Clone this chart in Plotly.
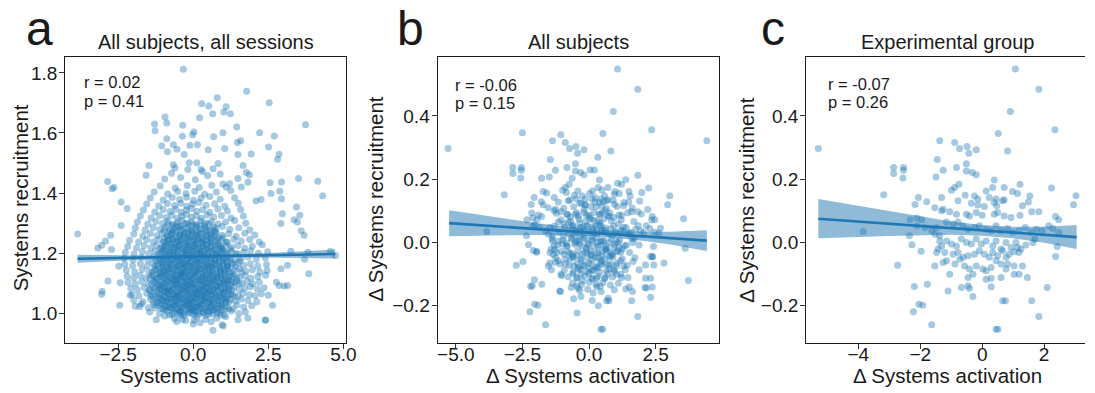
import plotly.graph_objects as go

# ---------------- data ----------------
# Panel a: all subjects, all sessions  (flat x,y pairs)
A_OUTER = [
    -0.33,1.812, 1.78,1.739, 0.80,1.717, 2.53,1.701, 0.28,1.697, 0.52,1.690, 1.10,1.687, 1.24,1.664,
    1.02,1.670, 0.65,1.664, 0.21,1.651, -0.94,1.653, -0.88,1.633, -1.29,1.630, -1.27,1.607, -0.35,1.626,
    3.74,1.627, 1.45,1.620, 2.21,1.601, 2.70,1.590, 0.02,1.603, -0.02,1.594, 0.68,1.587, 0.99,1.601,
    -0.88,1.581, -0.36,1.589, 1.47,1.568, 1.58,1.574, 2.51,1.553, -0.11,1.559, 0.14,1.561, -1.05,1.557,
    -0.66,1.561, 0.50,1.544, 1.05,1.548, -0.86,1.537, -0.54,1.546, -0.30,1.528, 1.49,1.528, 1.93,1.530,
    2.81,1.512, 2.86,1.529, -0.13,1.501, 0.12,1.501, 0.83,1.498, 0.66,1.481, -0.66,1.494, -0.61,1.483,
    -1.47,1.492, 1.66,1.492, 0.26,1.478, 1.77,1.468, 1.87,1.461, -1.57,1.459, -2.85,1.438, -2.70,1.414,
    -2.64,1.418, 1.49,1.448, 1.82,1.436, 2.56,1.434, 2.94,1.437, 3.51,1.448, 4.15,1.439, 4.31,1.391,
    0.99,1.430, 1.21,1.431, 1.60,1.420, -2.40,1.370, -2.20,1.348, -2.40,1.292, -3.85,1.263, -3.18,1.217,
    -3.05,1.226, -2.92,1.240, -2.75,1.259, -2.72,1.212, -3.03,1.073, -3.05,1.063, -2.84,1.107, -2.43,1.101,
    -2.48,1.156, -2.45,1.026, -2.10,1.059, -1.93,1.023, -1.73,1.031, -1.23,0.978, -0.55,0.972, -0.36,0.979,
    0.00,0.964, 0.03,0.976, 0.66,0.943, 0.96,0.961, 1.00,0.957, 1.49,0.978, 1.82,0.984, 2.41,0.976,
    3.85,1.131, 3.71,1.179, 3.82,1.203, 3.25,1.206, 2.86,1.092, 3.03,1.090, 3.14,1.092, 2.77,1.103,
    4.74,1.192, 4.57,1.206, 3.55,1.326, 3.44,1.353, 3.47,1.303, 3.60,1.274, 3.69,1.259, 3.36,1.311,
    2.97,1.331, 2.92,1.298, 2.59,1.398, 2.94,1.381, 2.88,1.406, 2.26,1.378, 2.09,1.374, 2.50,1.059,
    2.64,1.026, 2.40,0.977, 3.14,1.159, 2.92,1.148,
]
A_CORE = [
    -0.62,0.981, -0.25,0.975, 0.12,0.986, 0.41,0.979, 0.78,0.983, -0.95,0.990, 0.23,0.968, 1.08,0.988, -0.41,0.992, 0.60,0.971,
    -1.45,1.004, -1.12,0.998, -0.86,1.006, -0.71,0.995, -0.47,1.003, -0.33,0.999, -0.14,1.008, 0.02,0.996, 0.17,1.005,
    0.34,1.001, 0.52,0.997, 0.67,1.009, 0.88,1.002, 1.03,0.994, 1.27,1.007, 1.52,0.999, 1.74,1.004, -0.02,1.012,
    -1.78,1.022, -1.50,1.018, -1.31,1.027, -1.06,1.015, -0.93,1.024, -0.78,1.019, -0.60,1.028, -0.52,1.014, -0.38,1.021,
    -0.24,1.026, -0.09,1.017, 0.06,1.023, 0.21,1.019, 0.29,1.029, 0.44,1.016, 0.58,1.024, 0.73,1.018, 0.94,1.026,
    1.12,1.021, 1.33,1.015, 1.46,1.027, 1.68,1.020, 1.95,1.024, -0.16,1.031,
    -1.98,1.043, -1.67,1.038, -1.42,1.046, -1.20,1.035, -1.03,1.044, -0.88,1.039, -0.74,1.048, -0.64,1.036, -0.49,1.042,
    -0.37,1.047, -0.27,1.037, -0.12,1.044, -0.03,1.039, 0.09,1.048, 0.18,1.034, 0.32,1.043, 0.41,1.049, 0.55,1.038,
    0.63,1.045, 0.80,1.041, 0.97,1.047, 1.09,1.036, 1.24,1.044, 1.41,1.039, 1.60,1.047, 1.82,1.042, 2.12,1.038, -0.57,1.051,
    -2.04,1.062, -1.81,1.057, -1.55,1.066, -1.36,1.058, -1.15,1.064, -0.99,1.055, -0.84,1.067, -0.70,1.060, -0.56,1.064,
    -0.45,1.056, -0.33,1.068, -0.20,1.059, -0.07,1.065, 0.04,1.057, 0.14,1.066, 0.26,1.061, 0.37,1.055, 0.48,1.067,
    0.60,1.060, 0.71,1.064, 0.85,1.057, 1.00,1.066, 1.16,1.059, 1.30,1.063, 1.49,1.056, 1.66,1.066, 1.87,1.061, 2.06,1.058,
    2.27,1.064, -0.92,1.071,
    -2.08,1.083, -1.86,1.078, -1.63,1.085, -1.44,1.077, -1.26,1.084, -1.09,1.079, -0.95,1.087, -0.81,1.076, -0.66,1.082,
    -0.53,1.088, -0.41,1.078, -0.29,1.084, -0.16,1.079, -0.05,1.086, 0.07,1.077, 0.19,1.083, 0.31,1.089, 0.43,1.078,
    0.53,1.085, 0.67,1.080, 0.79,1.087, 0.92,1.076, 1.05,1.084, 1.19,1.079, 1.35,1.086, 1.53,1.078, 1.72,1.083, 1.91,1.088,
    2.14,1.080, 2.36,1.084, -0.23,1.092, 0.36,1.072,
    -2.17,1.102, -1.93,1.097, -1.72,1.105, -1.50,1.098, -1.31,1.106, -1.14,1.096, -1.00,1.103, -0.87,1.108, -0.75,1.099,
    -0.62,1.104, -0.49,1.096, -0.38,1.107, -0.26,1.100, -0.13,1.105, -0.01,1.097, 0.11,1.103, 0.23,1.108, 0.35,1.099,
    0.47,1.104, 0.59,1.096, 0.74,1.106, 0.88,1.100, 1.01,1.105, 1.14,1.097, 1.28,1.103, 1.44,1.108, 1.61,1.099, 1.79,1.104,
    1.98,1.097, 2.20,1.103, -0.56,1.112, 0.63,1.111,
    -2.20,1.123, -1.98,1.117, -1.77,1.125, -1.57,1.118, -1.38,1.126, -1.20,1.116, -1.05,1.123, -0.92,1.128, -0.79,1.119,
    -0.67,1.124, -0.54,1.116, -0.42,1.127, -0.31,1.120, -0.19,1.125, -0.06,1.117, 0.05,1.123, 0.17,1.128, 0.29,1.119,
    0.41,1.124, 0.53,1.116, 0.66,1.126, 0.79,1.120, 0.93,1.125, 1.07,1.117, 1.22,1.123, 1.37,1.128, 1.55,1.119, 1.73,1.124,
    1.92,1.116, 2.15,1.122, 2.41,1.126, -0.37,1.132,
    -2.23,1.143, -1.95,1.137, -1.70,1.145, -1.47,1.138, -1.28,1.146, -1.11,1.136, -0.97,1.143, -0.83,1.148, -0.71,1.139,
    -0.58,1.144, -0.46,1.136, -0.35,1.147, -0.23,1.140, -0.11,1.145, 0.01,1.137, 0.13,1.143, 0.25,1.148, 0.38,1.139,
    0.50,1.144, 0.62,1.136, 0.76,1.146, 0.90,1.140, 1.04,1.145, 1.20,1.137, 1.36,1.143, 1.54,1.148, 1.75,1.139, 1.97,1.144,
    2.22,1.137, 2.46,1.142,
    -2.28,1.163, -2.02,1.157, -1.76,1.165, -1.54,1.158, -1.35,1.166, -1.17,1.156, -1.02,1.163, -0.88,1.168, -0.74,1.159,
    -0.61,1.164, -0.50,1.156, -0.39,1.167, -0.27,1.160, -0.15,1.165, -0.04,1.157, 0.08,1.163, 0.20,1.168, 0.33,1.159,
    0.45,1.164, 0.57,1.156, 0.70,1.166, 0.84,1.160, 0.99,1.165, 1.15,1.157, 1.31,1.163, 1.49,1.168, 1.68,1.159, 1.90,1.164,
    2.15,1.157, 2.44,1.162,
    -2.30,1.183, -2.00,1.177, -1.73,1.185, -1.51,1.178, -1.31,1.186, -1.13,1.176, -0.98,1.183, -0.83,1.188, -0.69,1.179,
    -0.56,1.184, -0.44,1.176, -0.32,1.187, -0.19,1.180, -0.07,1.185, 0.06,1.177, 0.18,1.183, 0.31,1.188, 0.44,1.179,
    0.58,1.184, 0.72,1.176, 0.87,1.186, 1.03,1.180, 1.20,1.185, 1.39,1.177, 1.60,1.183, 1.83,1.188, 2.10,1.179, 2.40,1.184,
    -2.26,1.203, -1.97,1.197, -1.69,1.205, -1.47,1.198, -1.27,1.206, -1.10,1.196, -0.95,1.203, -0.80,1.208, -0.66,1.199,
    -0.53,1.204, -0.40,1.196, -0.28,1.207, -0.16,1.200, -0.03,1.205, 0.10,1.197, 0.22,1.203, 0.36,1.208, 0.49,1.199,
    0.63,1.204, 0.78,1.196, 0.93,1.206, 1.10,1.200, 1.28,1.205, 1.47,1.197, 1.68,1.203, 1.91,1.208, 2.17,1.199, 2.48,1.204,
    -2.18,1.223, -1.89,1.217, -1.63,1.225, -1.41,1.218, -1.22,1.226, -1.05,1.216, -0.90,1.223, -0.75,1.228, -0.61,1.219,
    -0.48,1.224, -0.35,1.216, -0.22,1.227, -0.09,1.220, 0.04,1.225, 0.17,1.217, 0.30,1.223, 0.44,1.228, 0.58,1.219,
    0.73,1.224, 0.90,1.216, 1.08,1.226, 1.27,1.220, 1.48,1.225, 1.71,1.217, 1.97,1.223, 2.30,1.228,
    -2.12,1.243, -1.82,1.237, -1.55,1.245, -1.33,1.238, -1.14,1.246, -0.97,1.236, -0.82,1.243, -0.67,1.248, -0.53,1.239,
    -0.40,1.244, -0.26,1.236, -0.12,1.247, 0.01,1.240, 0.15,1.245, 0.29,1.237, 0.43,1.243, 0.59,1.248, 0.76,1.239,
    0.94,1.244, 1.14,1.236, 1.36,1.246, 1.60,1.240, 1.88,1.245, 2.20,1.237,
    -1.98,1.263, -1.68,1.257, -1.43,1.265, -1.21,1.258, -1.03,1.266, -0.87,1.256, -0.72,1.263, -0.58,1.268, -0.44,1.259,
    -0.30,1.264, -0.16,1.256, -0.02,1.267, 0.12,1.260, 0.27,1.265, 0.42,1.257, 0.58,1.263, 0.76,1.268, 0.96,1.259,
    1.18,1.264, 1.43,1.256, 1.72,1.266, 2.05,1.260,
    -1.93,1.283, -1.60,1.277, -1.33,1.285, -1.11,1.278, -0.93,1.286, -0.77,1.276, -0.62,1.283, -0.48,1.288, -0.34,1.279,
    -0.20,1.284, -0.06,1.276, 0.08,1.287, 0.23,1.280, 0.39,1.285, 0.56,1.277, 0.75,1.283, 0.97,1.288, 1.22,1.279,
    1.52,1.284, 1.88,1.277,
    -1.86,1.303, -1.51,1.297, -1.24,1.305, -1.02,1.298, -0.84,1.306, -0.67,1.296, -0.51,1.303, -0.36,1.308, -0.21,1.299,
    -0.06,1.304, 0.09,1.296, 0.25,1.307, 0.42,1.300, 0.61,1.305, 0.83,1.297, 1.08,1.303, 1.38,1.308, 1.75,1.299,
    -1.76,1.323, -1.40,1.317, -1.12,1.325, -0.90,1.318, -0.71,1.326, -0.54,1.316, -0.38,1.323, -0.22,1.328, -0.06,1.319,
    0.10,1.324, 0.27,1.316, 0.46,1.327, 0.68,1.320, 0.94,1.325, 1.26,1.317, 1.67,1.323,
    -1.66,1.343, -1.28,1.337, -1.00,1.345, -0.77,1.338, -0.58,1.346, -0.40,1.336, -0.23,1.343, -0.06,1.348, 0.12,1.339,
    0.32,1.344, 0.55,1.336, 0.82,1.347, 1.14,1.340, 1.58,1.345,
    -1.55,1.363, -1.15,1.357, -0.86,1.365, -0.62,1.358, -0.41,1.366, -0.21,1.356, -0.02,1.363, 0.19,1.368, 0.43,1.359,
    0.71,1.364, 1.05,1.356, 1.50,1.366,
    -1.43,1.383, -1.00,1.377, -0.70,1.385, -0.45,1.378, -0.22,1.386, 0.01,1.376, 0.26,1.383, 0.55,1.388, 0.90,1.379, 1.38,1.384,
    -1.30,1.403, -0.85,1.397, -0.52,1.405, -0.24,1.398, 0.05,1.406, 0.38,1.396, 0.77,1.403, 1.25,1.408,
    -1.10,1.423, -0.60,1.417, -0.20,1.425, 0.20,1.418, 0.62,1.426, 1.10,1.420,
    -0.95,1.447, -0.42,1.452, 0.07,1.444, 0.48,1.458, -0.72,1.466, 0.31,1.472, -0.18,1.478, 0.90,1.463,
]
A_CENTER = [
    -0.93,1.011, -0.66,1.014, -0.42,1.008, -0.18,1.013, 0.03,1.009, 0.27,1.015, 0.49,1.007, 0.71,1.012, 0.95,1.010, 1.18,1.014,
    -1.04,1.032, -0.81,1.028, -0.55,1.034, -0.31,1.030, -0.08,1.033, 0.14,1.027, 0.38,1.035, 0.61,1.031, 0.85,1.029, 1.07,1.034,
    -1.12,1.052, -0.86,1.049, -0.62,1.054, -0.39,1.048, -0.15,1.053, 0.07,1.050, 0.29,1.055, 0.52,1.047, 0.77,1.052, 1.02,1.049,
    -0.97,1.071, -0.73,1.074, -0.48,1.068, -0.24,1.073, -0.02,1.069, 0.22,1.075, 0.45,1.070, 0.68,1.072, 0.92,1.067, 1.15,1.073,
    -1.08,1.092, -0.84,1.088, -0.60,1.094, -0.35,1.090, -0.11,1.093, 0.12,1.087, 0.36,1.095, 0.58,1.091, 0.83,1.089, 1.06,1.094,
    -0.94,1.112, -0.70,1.109, -0.45,1.114, -0.22,1.108, 0.00,1.113, 0.24,1.110, 0.47,1.115, 0.70,1.107, 0.96,1.112, 1.21,1.109,
    -1.10,1.131, -0.86,1.134, -0.61,1.128, -0.38,1.133, -0.14,1.129, 0.09,1.135, 0.32,1.130, 0.56,1.132, 0.81,1.127, 1.05,1.133,
    -0.99,1.152, -0.75,1.148, -0.52,1.154, -0.29,1.150, -0.05,1.153, 0.18,1.147, 0.41,1.155, 0.64,1.151, 0.90,1.149, 1.14,1.154,
    -1.06,1.172, -0.80,1.169, -0.57,1.174, -0.33,1.168, -0.10,1.173, 0.13,1.170, 0.37,1.175, 0.61,1.167, 0.86,1.172, 1.12,1.169,
    -0.91,1.191, -0.67,1.194, -0.44,1.188, -0.21,1.193, 0.02,1.189, 0.26,1.195, 0.50,1.190, 0.74,1.192, 0.99,1.187,
    -1.00,1.212, -0.74,1.208, -0.50,1.214, -0.25,1.210, -0.01,1.213, 0.23,1.207, 0.47,1.215, 0.72,1.211, 0.98,1.209,
    -0.88,1.232, -0.63,1.229, -0.38,1.234, -0.14,1.228, 0.10,1.233, 0.34,1.230, 0.59,1.235, 0.85,1.227,
    -0.95,1.252, -0.69,1.248, -0.45,1.254, -0.19,1.250, 0.06,1.253, 0.31,1.247, 0.56,1.255, 0.83,1.251,
    -0.81,1.271, -0.55,1.274, -0.29,1.268, -0.04,1.273, 0.21,1.269, 0.47,1.275, 0.74,1.270,
    -0.70,1.292, -0.42,1.288, -0.15,1.294, 0.11,1.290, 0.38,1.293, 0.66,1.287,
]
A_DENSE = [
    -0.78,0.994, -0.51,0.997, -0.29,0.993, -0.06,0.998, 0.19,0.995, 0.43,0.992, 0.66,0.997, 0.90,0.994,
    -1.27,1.017, -0.99,1.013, -0.75,1.018, -0.57,1.012, -0.34,1.016, -0.11,1.014, 0.11,1.019, 0.36,1.013, 0.56,1.017, 0.81,1.015, 1.05,1.012,
    -1.33,1.036, -1.10,1.033, -0.90,1.038, -0.69,1.035, -0.46,1.032, -0.21,1.037, 0.00,1.034, 0.24,1.039, 0.48,1.033, 0.70,1.036, 0.93,1.031, 1.19,1.037,
    -1.41,1.057, -1.19,1.052, -0.95,1.056, -0.76,1.053, -0.53,1.058, -0.28,1.054, -0.05,1.051, 0.17,1.057, 0.40,1.053, 0.63,1.058, 0.88,1.054, 1.11,1.052, 1.37,1.056,
    -1.46,1.076, -1.21,1.073, -1.02,1.078, -0.79,1.074, -0.57,1.072, -0.34,1.077, -0.12,1.075, 0.10,1.071, 0.33,1.076, 0.56,1.073, 0.80,1.078, 1.04,1.074, 1.29,1.077,
    -1.39,1.096, -1.17,1.093, -0.93,1.098, -0.68,1.094, -0.44,1.092, -0.19,1.097, 0.05,1.095, 0.29,1.091, 0.52,1.096, 0.77,1.093, 1.00,1.098, 1.25,1.094, 1.52,1.097,
    -1.44,1.116, -1.22,1.113, -1.00,1.118, -0.75,1.114, -0.50,1.112, -0.27,1.117, -0.03,1.115, 0.20,1.111, 0.44,1.116, 0.69,1.113, 0.92,1.118, 1.17,1.114, 1.45,1.117,
    -1.36,1.136, -1.14,1.133, -0.91,1.138, -0.66,1.134, -0.41,1.132, -0.18,1.137, 0.06,1.135, 0.30,1.131, 0.54,1.136, 0.78,1.133, 1.02,1.138, 1.27,1.134, 1.60,1.137,
    -1.28,1.156, -1.06,1.153, -0.81,1.158, -0.56,1.154, -0.32,1.152, -0.09,1.157, 0.15,1.155, 0.38,1.151, 0.62,1.156, 0.87,1.153, 1.13,1.158, 1.41,1.154,
    -1.24,1.176, -0.99,1.173, -0.74,1.178, -0.48,1.174, -0.24,1.172, 0.00,1.177, 0.24,1.175, 0.49,1.171, 0.73,1.176, 0.98,1.173, 1.24,1.178, 1.55,1.174,
    -1.17,1.196, -0.90,1.193, -0.62,1.198, -0.36,1.194, -0.10,1.192, 0.14,1.197, 0.39,1.195, 0.63,1.191, 0.88,1.196, 1.14,1.193, 1.43,1.198,
    -1.10,1.216, -0.84,1.213, -0.58,1.218, -0.31,1.214, -0.06,1.212, 0.19,1.217, 0.45,1.215, 0.70,1.211, 0.96,1.216, 1.25,1.213,
    -1.00,1.236, -0.73,1.233, -0.47,1.238, -0.20,1.234, 0.05,1.232, 0.30,1.237, 0.56,1.235, 0.82,1.231, 1.10,1.236,
    -0.86,1.256, -0.60,1.253, -0.33,1.258, -0.07,1.254, 0.18,1.252, 0.44,1.257, 0.70,1.255, 0.99,1.251,
    -0.97,1.276, -0.68,1.273, -0.40,1.278, -0.13,1.274, 0.14,1.272, 0.42,1.277, 0.70,1.275,
    -0.84,1.296, -0.55,1.293, -0.28,1.298, -0.02,1.294, 0.25,1.292, 0.52,1.297,
]
A_DENSE2 = [
    -0.64,1.003, -0.40,1.006, -0.17,1.001, 0.08,1.004, 0.31,1.002, 0.55,1.006, 0.79,1.001,
    -1.13,1.024, -0.87,1.021, -0.66,1.026, -0.45,1.022, -0.22,1.025, 0.00,1.021, 0.23,1.026, 0.46,1.022, 0.69,1.025, 0.93,1.021,
    -1.22,1.044, -0.99,1.041, -0.79,1.046, -0.57,1.042, -0.33,1.045, -0.10,1.041, 0.12,1.046, 0.36,1.042, 0.59,1.045, 0.82,1.041, 1.06,1.046,
    -1.30,1.064, -1.07,1.061, -0.86,1.066, -0.64,1.062, -0.41,1.065, -0.17,1.061, 0.06,1.066, 0.28,1.062, 0.51,1.065, 0.75,1.061, 0.99,1.066, 1.24,1.062,
    -1.33,1.084, -1.11,1.081, -0.90,1.086, -0.68,1.082, -0.46,1.085, -0.23,1.081, 0.00,1.086, 0.22,1.082, 0.45,1.085, 0.68,1.081, 0.92,1.086, 1.16,1.082,
    -1.27,1.104, -1.05,1.101, -0.81,1.106, -0.56,1.102, -0.32,1.105, -0.07,1.101, 0.17,1.106, 0.41,1.102, 0.64,1.105, 0.89,1.101, 1.13,1.106, 1.38,1.102,
    -1.32,1.124, -1.11,1.121, -0.87,1.126, -0.62,1.122, -0.39,1.125, -0.15,1.121, 0.08,1.126, 0.32,1.122, 0.57,1.125, 0.80,1.121, 1.05,1.126, 1.31,1.122,
    -1.24,1.144, -1.02,1.141, -0.78,1.146, -0.53,1.142, -0.29,1.145, -0.06,1.141, 0.19,1.146, 0.42,1.142, 0.66,1.145, 0.91,1.141, 1.15,1.146,
    -1.17,1.164, -0.93,1.161, -0.68,1.166, -0.44,1.162, -0.20,1.165, 0.04,1.161, 0.27,1.166, 0.51,1.162, 0.76,1.165, 1.01,1.161, 1.28,1.166,
    -1.11,1.184, -0.86,1.181, -0.61,1.186, -0.36,1.182, -0.12,1.185, 0.12,1.181, 0.37,1.186, 0.61,1.182, 0.86,1.185, 1.11,1.181,
    -1.04,1.204, -0.77,1.201, -0.51,1.206, -0.23,1.202, 0.03,1.205, 0.28,1.201, 0.53,1.206, 0.79,1.202, 1.06,1.205,
    -0.95,1.224, -0.69,1.221, -0.43,1.226, -0.16,1.222, 0.10,1.225, 0.36,1.221, 0.62,1.226, 0.91,1.222,
    -0.81,1.244, -0.55,1.241, -0.28,1.246, -0.02,1.242, 0.24,1.245, 0.50,1.241, 0.77,1.246,
    -0.72,1.264, -0.45,1.261, -0.18,1.266, 0.08,1.262, 0.35,1.265, 0.61,1.261,
]
A_FIT_X = [-3.85, 4.73]
A_FIT_Y = [1.181, 1.197]
A_CI_X = [-3.85, -2.5, -1.5, -0.5, 0.5, 1.5, 2.5, 3.5, 4.73]
A_CI_LO = [1.168, 1.1745, 1.1794, 1.1833, 1.1851, 1.1860, 1.1853, 1.1842, 1.1820]
A_CI_HI = [1.194, 1.1925, 1.1914, 1.1913, 1.1931, 1.1960, 1.2003, 1.2052, 1.2120]

# Panel c: experimental group (flat x,y pairs of change scores)
EXP = [
    -5.29,0.297, -1.37,0.321, -1.45,0.262, -2.86,0.237, -2.54,0.237, -2.86,0.218, -2.54,0.228, -2.56,0.204,
    -1.26,0.228, -1.49,0.207, -3.18,0.151, -2.06,0.142, -1.79,0.129, -1.31,0.142,
    -3.84,0.035, -2.33,0.072, -2.11,0.077, -1.95,0.072, -2.17,0.120, -1.53,0.110, -1.31,0.100, -2.11,0.053,
    -1.85,0.047, -1.63,0.037, -1.47,0.047, -1.52,0.026, -1.37,0.021, -1.37,0.005, -1.31,-0.011, -1.42,-0.021,
    -2.35,0.021, -2.27,-0.007, -1.97,-0.028, -1.47,-0.032, -1.26,-0.063, -1.53,-0.074, -2.73,-0.072, -2.19,-0.139,
    -1.77,-0.132, -2.04,-0.195, -1.92,-0.198, -2.22,-0.219, -1.63,-0.260, -1.26,0.105,
    1.07,0.548, 1.83,0.484, 0.91,0.414, 2.35,0.356, 0.52,0.344, 0.82,0.289, -0.89,0.316, -0.73,0.297,
    -0.49,0.303, -0.43,0.282, -0.19,0.293, -0.83,0.237, -0.51,0.226, -0.51,0.249, -0.32,0.221, -0.19,0.214,
    0.39,0.197, 0.13,0.163, 0.34,0.174, 0.71,0.174, 0.98,0.161, 1.14,0.155, 1.22,0.184, 1.54,0.147,
    -0.99,0.165, -0.89,0.174, -0.75,0.184, 2.24,0.172, 3.03,0.148, -0.55,0.149, -0.25,0.147, -0.14,0.137,
    0.23,0.142, 0.45,0.137, 0.71,0.135,
    -0.78,0.132, -0.35,0.124, -0.14,0.118, 0.07,0.114, 0.39,0.126, 0.47,0.116, 0.66,0.132, 1.30,0.116,
    1.49,0.128, 1.60,0.097, 1.83,0.097, 2.95,0.119, 2.37,0.082, 2.47,0.072, -1.05,0.097, -0.83,0.089,
    -0.51,0.089, -0.41,0.084, -0.19,0.095, 0.00,0.086, 0.39,0.089, 0.50,0.095, 0.71,0.084, 0.93,0.079,
    1.22,0.086, -1.15,0.065, -0.94,0.058, -0.78,0.065, -0.62,0.053, -0.46,0.042, -0.25,0.047, -0.09,0.053,
    0.13,0.042, 0.29,0.037, 0.45,0.053, 0.61,0.037, 0.82,0.044, 0.98,0.032, 1.19,0.037, 1.39,0.047,
    1.57,0.032, 1.75,0.042, 1.94,0.037, 2.15,0.053, 2.28,0.044, 2.47,0.032, 1.70,0.011, 1.64,0.000,
    2.42,-0.013, 2.37,-0.044, -1.15,0.005, -0.99,-0.005, -0.83,-0.011, -0.67,0.011, -0.51,0.000, -0.35,-0.005,
    -0.19,0.011, -0.03,-0.005, 0.13,0.005, 0.34,-0.011, 0.45,0.005, 0.61,-0.021, 0.77,0.000, 0.93,-0.016,
    1.09,0.000, 1.25,-0.021, 1.41,-0.008, -1.21,-0.032, -0.94,-0.037, -0.78,-0.032, -0.62,-0.047, -0.46,-0.042,
    -0.25,-0.037, -0.09,-0.026, 0.07,-0.037, 0.23,-0.047, 0.34,-0.032, 0.50,-0.042, 0.66,-0.026, 0.77,-0.047,
    0.87,-0.037, 1.03,-0.029, 1.14,-0.016, 1.19,-0.032, -1.15,-0.058, -0.88,-0.068, -0.72,-0.053, -0.57,-0.074,
    -0.41,-0.084, -0.19,-0.074, 0.02,-0.084, 0.13,-0.089, 0.29,-0.079, 0.45,-0.058, 0.61,-0.068, 0.77,-0.084,
    0.82,-0.068, 1.03,-0.074, 1.03,-0.100, 1.19,-0.100, 1.30,-0.074, 1.46,-0.111, -1.05,-0.100, -0.46,-0.111,
    -0.30,-0.100, 0.13,-0.116, 0.29,-0.113, 0.61,-0.111, -1.10,-0.153, -0.67,-0.142, -0.46,-0.137, -0.41,-0.145,
    -0.30,-0.171, 0.29,-0.140, 0.66,-0.184, 0.75,-0.184, 1.60,-0.184, 2.10,-0.142, 1.83,-0.234, 0.45,-0.274,
    0.51,-0.274,
]
# additional (control-group) points that appear only in panel b
CTRL = [
    4.42,0.321, -2.50,0.347, -1.06,0.340, 0.33,0.269, -0.63,0.203, 0.04,0.229, 0.20,0.229, -1.78,0.203,
    1.07,0.187, 1.83,0.212, 1.38,0.198, 1.98,0.158, -1.72,0.161, -1.59,0.156, -2.48,-0.060, -2.13,-0.137,
    -0.45,-0.223, 0.35,-0.200, 3.73,-0.120, 3.61,-0.018, 3.55,0.075, 2.37,-0.141, 2.81,-0.065, 2.43,-0.071,
    2.12,-0.071, 2.31,-0.044, 2.39,-0.046, 2.68,0.045, 2.62,0.029, 2.31,-0.113, 2.15,-0.144, 2.31,-0.173,
    -1.07,-0.155, -1.03,-0.105, -1.41,-0.086, -1.47,-0.065, -1.72,0.119, -2.15,0.093, -1.90,0.087, -1.78,0.082,
    -2.03,0.056, -2.09,-0.025, -1.96,-0.031, -2.05,-0.118, 1.51,-0.141, 1.38,-0.147, 1.63,-0.155, 2.12,-0.113,
    1.88,-0.086, -1.34,-0.039, -1.28,-0.023,
    -0.85,0.158, -0.42,0.163, 0.02,0.155, 0.48,0.166, 0.95,0.152, 1.50,0.161,
    -1.15,0.128, -0.72,0.134, -0.30,0.125, 0.12,0.137, 0.55,0.129, 0.90,0.133, 1.31,0.126, 1.90,0.131,
    -0.95,0.108, -0.58,0.113, -0.18,0.105, 0.27,0.112, 0.66,0.107, 1.05,0.114, 1.62,0.109, 2.20,0.104,
    -1.22,0.092, -0.81,0.088, -0.46,0.094, -0.09,0.086, 0.18,0.095, 0.41,0.089, 0.78,0.093, 1.12,0.087,
    1.45,0.094, 1.96,0.090,
    -1.05,0.072, -0.69,0.068, -0.38,0.074, -0.14,0.066, 0.07,0.073, 0.33,0.069, 0.57,0.075, 0.84,0.068,
    1.21,0.072, 1.68,0.066, 2.35,0.071,
    -1.30,0.052, -0.92,0.048, -0.60,0.054, -0.33,0.047, -0.05,0.053, 0.15,0.049, 0.38,0.055, 0.62,0.046,
    0.93,0.052, 1.30,0.048, 1.85,0.054,
    -1.12,0.032, -0.77,0.028, -0.50,0.034, -0.24,0.027, 0.00,0.033, 0.22,0.029, 0.46,0.035, 0.71,0.028,
    1.00,0.032, 1.42,0.027, 2.05,0.031,
    -1.38,0.012, -0.99,0.008, -0.64,0.014, -0.37,0.007, -0.12,0.013, 0.10,0.009, 0.31,0.015, 0.55,0.006,
    0.82,0.012, 1.15,0.008, 1.60,0.013,
    -1.18,-0.008, -0.82,-0.013, -0.54,-0.006, -0.27,-0.012, -0.04,-0.007, 0.19,-0.014, 0.42,-0.009, 0.66,-0.012,
    0.95,-0.006, 1.33,-0.011, 1.88,-0.008,
    -1.02,-0.028, -0.70,-0.033, -0.43,-0.026, -0.17,-0.032, 0.05,-0.027, 0.27,-0.034, 0.50,-0.029, 0.77,-0.031,
    1.08,-0.026, 1.52,-0.032,
    -1.25,-0.048, -0.88,-0.053, -0.58,-0.046, -0.31,-0.052, -0.06,-0.047, 0.14,-0.054, 0.36,-0.049, 0.61,-0.051,
    0.90,-0.046, 1.25,-0.052, 1.72,-0.048,
    -1.08,-0.068, -0.74,-0.073, -0.45,-0.066, -0.20,-0.072, 0.04,-0.067, 0.25,-0.074, 0.48,-0.069, 0.74,-0.071,
    1.04,-0.066, 1.43,-0.072,
    -0.93,-0.088, -0.60,-0.093, -0.32,-0.086, -0.07,-0.092, 0.17,-0.087, 0.40,-0.094, 0.65,-0.089, 0.96,-0.091,
    1.36,-0.086,
    -0.78,-0.108, -0.45,-0.113, -0.16,-0.106, 0.10,-0.112, 0.33,-0.107, 0.58,-0.114, 0.88,-0.109, 1.22,-0.111,
    -0.62,-0.128, -0.28,-0.133, 0.00,-0.126, 0.26,-0.132, 0.52,-0.127, 0.80,-0.134, 1.10,-0.129,
    -0.35,-0.152, -0.05,-0.148, 0.45,-0.155, 0.95,-0.149, -0.58,-0.178, 0.12,-0.183, 0.72,-0.176,
    -0.70,0.081, -0.35,0.061, 0.02,0.078, 0.42,0.063, 0.75,0.083, 1.10,0.058, -0.55,0.021, -0.20,0.040,
    0.12,0.019, 0.50,0.042, 0.88,0.022, 1.25,0.038, -0.85,-0.002, -0.45,0.003, -0.10,-0.018, 0.30,0.001,
    0.64,-0.019, 1.02,0.004, -0.62,-0.038, -0.28,-0.058, 0.07,-0.041, 0.44,-0.061, 0.83,-0.041, 1.18,-0.058,
    -0.40,-0.078, 0.00,-0.098, 0.35,-0.079, 0.70,-0.099, -0.15,0.118, 0.22,0.127, 0.60,0.101, -0.48,0.138,
    0.95,0.121, -0.25,-0.121, 0.42,-0.138, 0.15,-0.160, -0.70,0.048, 0.25,0.052, 1.50,0.030, 1.65,-0.060,
    -0.95,0.020, 0.58,0.148, -0.02,-0.065, 0.53,0.002, -0.33,0.020, 0.92,-0.085, 0.18,0.070, -0.60,-0.098,
]
B_FIT_X = [-5.25, 4.42]
B_FIT_Y = [0.061, 0.006]
B_CI_X = [-5.25, -4, -3, -2, -1, 0, 1, 2, 3, 4.42]
B_CI_LO = [0.020, 0.0219, 0.0232, 0.0236, 0.0229, 0.0201, 0.0144, 0.0057, -0.0059, -0.027]
B_CI_HI = [0.102, 0.0859, 0.0732, 0.0616, 0.0509, 0.0421, 0.0364, 0.0337, 0.0341, 0.039]

C_FIT_X = [-5.29, 3.05]
C_FIT_Y = [0.075, 0.017]
C_CI_X = [-5.29, -4, -3, -2, -1, 0, 1, 2, 3.05]
C_CI_LO = [0.013, 0.017, 0.0201, 0.0232, 0.0242, 0.0212, 0.0133, -0.0007, -0.021]
C_CI_HI = [0.137, 0.115, 0.0981, 0.0812, 0.0662, 0.0552, 0.0493, 0.0493, 0.055]

TITLES = ["All subjects, all sessions", "All subjects", "Experimental group"]
LETTERS = ["a", "b", "c"]
STATS = [("r = 0.02", "p = 0.41"), ("r = -0.06", "p = 0.15"), ("r = -0.07", "p = 0.26")]
XLABELS = ["Systems activation", "Δ Systems activation", "Δ Systems activation"]
YLABELS = ["Systems recruitment", "Δ Systems recruitment", "Δ Systems recruitment"]
A_XTICKS = [-2.5, 0.0, 2.5, 5.0]
A_YTICKS = [1.0, 1.2, 1.4, 1.6, 1.8]
B_XTICKS = [-5.0, -2.5, 0.0, 2.5]
C_XTICKS = [-4, -2, 0, 2]
BC_YTICKS = [-0.2, 0.0, 0.2, 0.4]

# ---------------- figure ----------------
W, H = 1095, 393
FONT = "Liberation Sans, Arial, Helvetica, sans-serif"
BLUE = "#1f77b4"
INK = "#1a1a1a"

A_ALL = A_OUTER + A_CORE + A_CENTER + A_DENSE + A_DENSE2
A_X = A_ALL[0::2]
A_Y = A_ALL[1::2]
C_X = EXP[0::2]
C_Y = EXP[1::2]
B_X = EXP[0::2] + CTRL[0::2]
B_Y = EXP[1::2] + CTRL[1::2]

fig = go.Figure()

def add_panel(xs, ys, fx, fy, cx, clo, chi, n):
    xa, ya = ("x", "y") if n == 1 else ("x%d" % n, "y%d" % n)
    fig.add_trace(go.Scatter(x=xs, y=ys, mode="markers", xaxis=xa, yaxis=ya,
                             marker=dict(size=7, color=BLUE, opacity=0.4, line=dict(width=0)),
                             showlegend=False, hoverinfo="skip"))
    fig.add_trace(go.Scatter(x=cx + cx[::-1], y=chi + clo[::-1], mode="lines", fill="toself",
                             fillcolor="rgba(31,119,180,0.5)", line=dict(width=0),
                             xaxis=xa, yaxis=ya, showlegend=False, hoverinfo="skip"))
    fig.add_trace(go.Scatter(x=fx, y=fy, mode="lines", line=dict(color=BLUE, width=2.6),
                             xaxis=xa, yaxis=ya, showlegend=False, hoverinfo="skip"))

add_panel(A_X, A_Y, A_FIT_X, A_FIT_Y, A_CI_X, A_CI_LO, A_CI_HI, 1)
add_panel(B_X, B_Y, B_FIT_X, B_FIT_Y, B_CI_X, B_CI_LO, B_CI_HI, 2)
add_panel(C_X, C_Y, C_FIT_X, C_FIT_Y, C_CI_X, C_CI_LO, C_CI_HI, 3)

def fx(px):
    return px / W

def fy(py):
    return 1 - py / H

TOP, BOT = 57.3, 342.5
BOXES = [(66.0, 349.3), (441.7, 725.7), (813.7, 1095.0)]
YDOM = [fy(BOT), fy(TOP)]

axis_common = dict(showline=True, linecolor=INK, linewidth=1.3, ticks="outside", ticklen=5,
                   tickwidth=1, tickcolor="#333333", showgrid=False, zeroline=False,
                   tickfont=dict(size=19, color=INK, family=FONT))
xstand = dict(ticklabelstandoff=-10)
ystand = dict(ticklabelstandoff=-2)

fig.update_layout(
    width=W, height=H, margin=dict(l=0, r=0, t=0, b=0),
    paper_bgcolor="white", plot_bgcolor="white", showlegend=False,
    xaxis=dict(domain=[fx(BOXES[0][0]), fx(BOXES[0][1])], range=[-4.257, 5.092], anchor="y",
               tickvals=A_XTICKS, tickformat=".1f", mirror=True, **axis_common, **xstand),
    yaxis=dict(domain=YDOM, range=[0.902, 1.852], anchor="x",
               tickvals=A_YTICKS, tickformat=".1f", mirror=True, **axis_common, **ystand),
    xaxis2=dict(domain=[fx(BOXES[1][0]), fx(BOXES[1][1])], range=[-5.68, 4.88], anchor="y2",
                tickvals=B_XTICKS, tickformat=".1f", mirror=True, **axis_common, **xstand),
    yaxis2=dict(domain=YDOM, range=[-0.316, 0.585], anchor="x2",
                tickvals=BC_YTICKS, tickformat=".1f", mirror=True, **axis_common, **ystand),
    xaxis3=dict(domain=[fx(BOXES[2][0]), 1.0], range=[-5.68, 3.32], anchor="y3",
                tickvals=C_XTICKS, tickformat="d", mirror=True, **axis_common, **xstand),
    yaxis3=dict(domain=YDOM, range=[-0.316, 0.585], anchor="x3",
                tickvals=BC_YTICKS, tickformat=".1f", mirror=False, **axis_common, **ystand),
)

ann = []
def text(px, py, s, size, xanchor="center", yanchor="middle", angle=0):
    ann.append(dict(x=fx(px), y=fy(py), xref="paper", yref="paper", text=s, showarrow=False,
                    xanchor=xanchor, yanchor=yanchor, textangle=angle,
                    font=dict(size=size, color=INK, family=FONT)))

TITLE_CX = [207.7, 583.7, 955.8]
LETTER_X = [24, 399, 766]
STAT_X = [82.7, 457.3, 833.7]
STAT_Y = [(82.5, 100.5), (85, 103), (84, 102)]
XLAB_CX = [207.7, 585.5, 956.5]
YLAB = [(21, 197.5), (378, 199), (752.5, 200)]

for i in range(3):
    text(TITLE_CX[i], 42.5, TITLES[i], 20)
    text(LETTER_X[i], 29, LETTERS[i], 48, xanchor="left")
    text(STAT_X[i], STAT_Y[i][0], STATS[i][0], 16.5, xanchor="left")
    text(STAT_X[i], STAT_Y[i][1], STATS[i][1], 16.5, xanchor="left")
    text(XLAB_CX[i], 375, XLABELS[i], 20.5)
    text(YLAB[i][0], YLAB[i][1], YLABELS[i], 20.5, angle=-90)

fig.update_layout(annotations=ann)
fig.write_html("out.html")
